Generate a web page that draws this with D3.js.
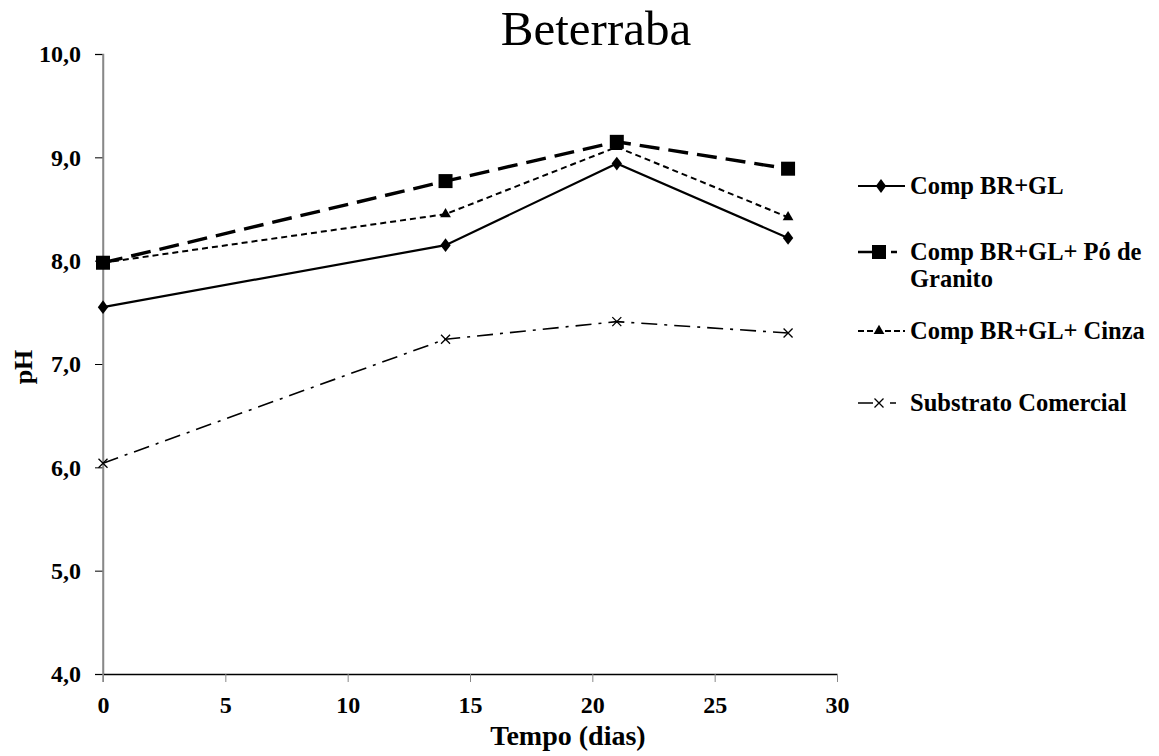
<!DOCTYPE html>
<html><head><meta charset="utf-8">
<script src="https://cdn.jsdelivr.net/npm/d3@7"></script>
<style>body{margin:0;background:#fff}</style>
</head><body>
<svg id="c" width="1159" height="756"></svg>
<script>
const days = [0, 14, 21, 28];
const seriesNames = ["Comp BR+GL", "Comp BR+GL+ Pó de Granito", "Comp BR+GL+ Cinza", "Substrato Comercial"];
const compBRGL = [7.55, 8.15, 8.94, 8.22];
const compGranito = [7.98, 8.77, 9.15, 8.89];
const compCinza = [7.98, 8.45, 9.10, 8.42];
const substrato = [6.04, 7.24, 7.41, 7.30];
const xTicks = [0, 5, 10, 15, 20, 25, 30];
const yTicks = [4, 5, 6, 7, 8, 9, 10];

const svg = d3.select("#c");
const font = "Liberation Serif, Times New Roman, serif";
const x = d3.scaleLinear().domain([0, 30]).range([103, 837]);
const y = d3.scaleLinear().domain([4, 10]).range([674, 54]);

// axes
const yAxis = svg.append("g").attr("transform", "translate(103,0)")
  .call(d3.axisLeft(y).tickValues(yTicks).tickSize(8).tickPadding(14)
    .tickFormat(d => d3.format(".1f")(d).replace(".", ",")));
yAxis.select(".domain").attr("stroke", "#888").attr("stroke-width", 1.5);
yAxis.selectAll(".tick line").attr("stroke", "#000");
yAxis.selectAll("text").attr("font-family", font).attr("font-size", 24).attr("font-weight", "bold").attr("fill", "#000");

const xAxis = svg.append("g").attr("transform", "translate(0,674)")
  .call(d3.axisBottom(x).tickValues(xTicks).tickSize(8).tickPadding(14).tickSizeOuter(0));
xAxis.select(".domain").attr("stroke", "#000").attr("stroke-width", 1.5);
xAxis.selectAll(".tick line").attr("stroke", "#888");
xAxis.selectAll("text").attr("font-family", font).attr("font-size", 24).attr("font-weight", "bold").attr("fill", "#000");
svg.append("line").attr("x1", 103).attr("x2", 103).attr("y1", 54).attr("y2", 682).attr("stroke", "#888").attr("stroke-width", 1.5);

// titles
svg.append("text").attr("x", 596).attr("y", 45).attr("text-anchor", "middle")
  .attr("font-family", font).attr("font-size", 49).text("Beterraba");
svg.append("text").attr("x", 568).attr("y", 745).attr("text-anchor", "middle")
  .attr("font-family", font).attr("font-size", 28).attr("font-weight", "bold").text("Tempo (dias)");
svg.append("text").attr("transform", "translate(32,367) rotate(-90)").attr("text-anchor", "middle")
  .attr("font-family", font).attr("font-size", 26).attr("font-weight", "bold").text("pH");

const styles = [
  {vals: compBRGL, w: 2.2, dash: null, marker: "diamond", legDash: null},
  {vals: compGranito, w: 3.4, dash: "20,9", marker: "square", legDash: "16,17,6,17"},
  {vals: compCinza, w: 2, dash: "6,4", marker: "triangle", legDash: "6,3"},
  {vals: substrato, w: 1.6, dash: "16,7,3,7", marker: "x", legDash: "15,17,6,17"}
];

function drawMarker(g, type, cx, cy) {
  if (type === "diamond") {
    const s = d3.symbol().type(d3.symbolDiamond).size(55);
    g.append("path").attr("d", s()).attr("transform", `translate(${cx},${cy}) scale(1.3,1)`).attr("fill", "#000");
  } else if (type === "square") {
    g.append("rect").attr("x", cx - 7).attr("y", cy - 7).attr("width", 14).attr("height", 14).attr("fill", "#000");
  } else if (type === "triangle") {
    const s = d3.symbol().type(d3.symbolTriangle).size(50);
    g.append("path").attr("d", s()).attr("transform", `translate(${cx},${cy})`).attr("fill", "#000");
  } else {
    g.append("path").attr("d", `M${cx-4.5},${cy-4.5}L${cx+4.5},${cy+4.5}M${cx-4.5},${cy+4.5}L${cx+4.5},${cy-4.5}`)
      .attr("stroke", "#000").attr("stroke-width", 1.3);
  }
}

const line = d3.line().x((d, i) => x(days[i])).y(d => y(d));
[3, 0, 2, 1].forEach(k => {
  const st = styles[k];
  const g = svg.append("g");
  g.append("path").datum(st.vals).attr("d", line).attr("fill", "none").attr("stroke", "#000")
    .attr("stroke-width", st.w).attr("stroke-dasharray", st.dash);
  st.vals.forEach((v, i) => drawMarker(g, st.marker, x(days[i]), y(v)));
});

// legend
const legY = [186, 252, 331, 403];
const lg = svg.append("g");
seriesNames.forEach((name, k) => {
  const st = styles[k];
  const yy = legY[k];
  lg.append("line").attr("x1", 858).attr("x2", 905).attr("y1", yy).attr("y2", yy)
    .attr("stroke", "#000").attr("stroke-width", Math.min(st.w, 2.6)).attr("stroke-dasharray", st.legDash);
  drawMarker(lg, st.marker, k === 0 ? 881 : 879, yy);
  const t = lg.append("text").attr("x", 910).attr("y", yy + 8).attr("font-family", font)
    .attr("font-size", 24.5).attr("font-weight", "bold");
  if (k === 1) {
    t.append("tspan").attr("x", 910).text("Comp BR+GL+ Pó de");
    t.append("tspan").attr("x", 910).attr("dy", 27).text("Granito");
  } else t.text(name);
});
</script>
</body></html>
